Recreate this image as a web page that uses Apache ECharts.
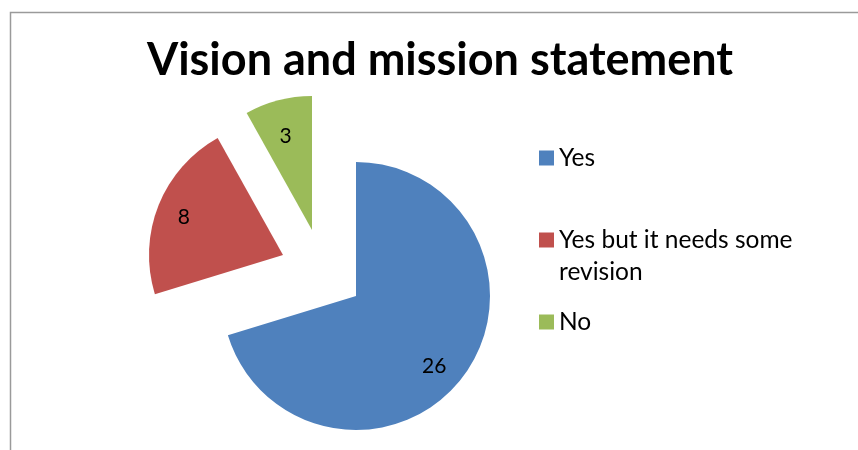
<!DOCTYPE html>
<html>
<head>
<meta charset="utf-8">
<script src="https://cdn.jsdelivr.net/npm/echarts@6/dist/echarts.min.js"></script>
<style>
  html, body { margin: 0; padding: 0; background: #fff; }
  #chart { width: 858px; height: 450px; }
</style>
</head>
<body>
<div id="chart"></div>
<script>
// Survey answers
const categories = ['Yes', 'Yes but it needs some revision', 'No'];
const values = [26, 8, 3];

// Look
const colors = ['#4F81BD', '#C0504D', '#9BBB59'];
const FONT = 'Lato';
// Each slice is exploded away from the pie, so each gets its own apex
const sliceCenters = [[356, 296], [283, 255], [312, 230]];
// Value labels sit on a transparent ring; small nudges keep them where Excel-style charts put them
const labelRadius = [103, 106, 98];
const labelNudge = [[-7, 7], [2, 3], [-1, 4]];
const R = 134;

const chart = echarts.init(document.getElementById('chart'), null, { renderer: 'canvas' });

const series = [];
categories.forEach((cat, i) => {
  // the visible slice
  series.push({
    type: 'pie',
    center: sliceCenters[i],
    radius: [0, R],
    startAngle: 90,
    clockwise: true,
    silent: true,
    animation: false,
    avoidLabelOverlap: false,
    label: { show: false },
    labelLine: { show: false },
    itemStyle: { borderWidth: 0 },
    data: categories.map((c, j) => ({
      name: c,
      value: values[j],
      itemStyle: { color: j === i ? colors[j] : 'rgba(0,0,0,0)' }
    }))
  });
  // a transparent ring that carries the value label
  series.push({
    type: 'pie',
    center: [sliceCenters[i][0] + labelNudge[i][0], sliceCenters[i][1] + labelNudge[i][1]],
    radius: [2 * labelRadius[i] - R, R],
    startAngle: 90,
    clockwise: true,
    silent: true,
    animation: false,
    avoidLabelOverlap: false,
    labelLine: { show: false },
    itemStyle: { borderWidth: 0, color: 'rgba(0,0,0,0)' },
    data: categories.map((c, j) => ({
      name: c,
      value: values[j],
      label: {
        show: j === i,
        position: 'inside',
        formatter: '{c}',
        color: '#000',
        fontFamily: FONT,
        fontSize: 21
      }
    }))
  });
});

const legendBase = {
  left: 539,
  orient: 'vertical',
  padding: 0,
  icon: 'rect',
  itemWidth: 15,
  itemHeight: 15,
  selectedMode: false,
  textStyle: { color: '#000', fontFamily: FONT, fontSize: 24.5, lineHeight: 24 }
};

chart.setOption({
  backgroundColor: '#fff',
  title: {
    text: 'Vision and mission statement',
    left: 435,
    textAlign: 'center',
    top: 33,
    textStyle: { fontFamily: FONT, fontWeight: 'bold', fontSize: 45, color: '#000' }
  },
  graphic: [{
    type: 'rect',
    shape: { x: 10.5, y: 12.5, width: 900, height: 500 },
    style: { fill: 'none', stroke: '#9a9a9a', lineWidth: 1.5 },
    silent: true
  }],
  legend: [
    Object.assign({}, legendBase, {
      top: 145.5,
      data: [{ name: categories[0], itemStyle: { color: colors[0] } }]
    }),
    Object.assign({}, legendBase, {
      // leading empty line keeps the marker beside the first line of the wrapped name
      top: 192,
      formatter: () => '\nYes but it needs some\nrevision',
      data: [{
        name: categories[1],
        itemStyle: { color: colors[1] },
        textStyle: { lineHeight: 32 }
      }]
    }),
    Object.assign({}, legendBase, {
      top: 309.5,
      data: [{ name: categories[2], itemStyle: { color: colors[2] } }]
    })
  ],
  series: series
});
</script>
</body>
</html>
